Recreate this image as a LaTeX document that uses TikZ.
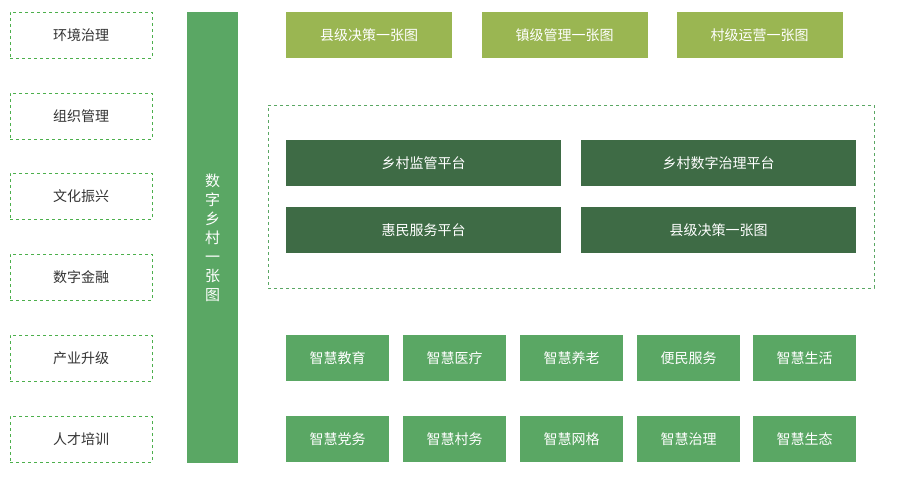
\documentclass[tikz,border=0pt]{standalone}
\usepackage{fontspec}
\setmainfont{Noto Sans CJK SC}
\begin{document}
\begin{tikzpicture}[x=1pt,y=-1pt,
  lbox/.style={draw=green!55!black!70,dashed,fill=white,minimum width=142pt,minimum height=46pt,font=\fontsize{14}{16}\selectfont,text=black!80},
  tbox/.style={fill=topc,minimum width=166pt,minimum height=46pt,text=white,font=\fontsize{14}{16}\selectfont},
  dbox/.style={fill=darkc,minimum width=275pt,minimum height=46pt,text=white,font=\fontsize{14}{16}\selectfont},
  sbox/.style={fill=midc,minimum width=103pt,minimum height=46pt,text=white,font=\fontsize{14}{16}\selectfont}]
\definecolor{topc}{HTML}{9AB652}
\definecolor{darkc}{HTML}{3E6B45}
\definecolor{midc}{HTML}{5AA764}
\useasboundingbox (0,0) rectangle (900,500);
\fill[white] (0,0) rectangle (900,500);
\foreach \n/\t/\y in {l1/环境治理/35,l2/组织管理/116,l3/文化振兴/196,l4/数字金融/277,l5/产业升级/358,l6/人才培训/439}
  \node[lbox] (\n) at (81,\y) {\t};
\node[fill=midc,minimum width=51pt,minimum height=451pt] (bar) at (212.5,237.5) {};
\node[text=white,font=\fontsize{15}{19}\selectfont,align=center] (bart) at (212.5,237.5) {数\\字\\乡\\村\\一\\张\\图};
\node[tbox] (t1) at (369,35) {县级决策一张图};
\node[tbox] (t2) at (564.5,35) {镇级管理一张图};
\node[tbox] (t3) at (759.5,35) {村级运营一张图};
\node[draw=midc,dashed,minimum width=606pt,minimum height=183pt] (frame) at (571,196.5) {};
\node[dbox] (d1) at (423.5,163) {乡村监管平台};
\node[dbox] (d2) at (718.5,163) {乡村数字治理平台};
\node[dbox] (d3) at (423.5,230) {惠民服务平台};
\node[dbox] (d4) at (718.5,230) {县级决策一张图};
\foreach \n/\t/\x in {s1/智慧教育/337.5,s2/智慧医疗/454.5,s3/智慧养老/571.5,s4/便民服务/688.5,s5/智慧生活/804.5}
  \node[sbox] (\n) at (\x,358) {\t};
\foreach \n/\t/\x in {u1/智慧党务/337.5,u2/智慧村务/454.5,u3/智慧网格/571.5,u4/智慧治理/688.5,u5/智慧生态/804.5}
  \node[sbox] (\n) at (\x,439) {\t};
\end{tikzpicture}
\end{document}
